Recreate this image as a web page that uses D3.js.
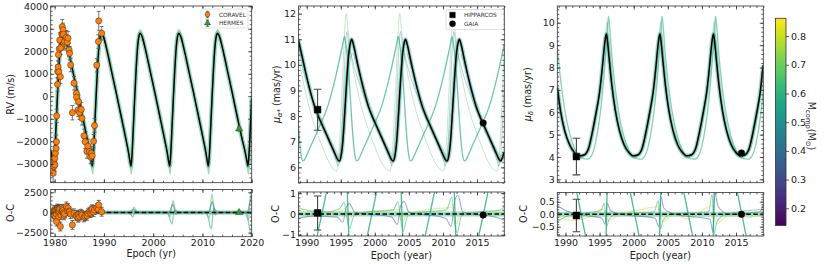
<!DOCTYPE html>
<html lang="en">
<head>
<meta charset="UTF-8">
<title>Orbit fit: RV and proper motions</title>
<script src="https://d3js.org/d3.v7.min.js"></script>
<style>
  body { margin: 0; background: #fff; }
  text { font-family: "DejaVu Sans", sans-serif; }
  .axis text { font-size: 9.5px; fill: #222; font-family: "DejaVu Sans", sans-serif; }
  .axis line { stroke: #333; stroke-width: 0.8; }
  .lbl { font-size: 9.6px; fill: #222; }
  .leg { font-size: 5.8px; fill: #333; }
</style>
</head>
<body>
<svg id="fig" width="830" height="264"></svg>
<script>
// ---------- tick labels ----------
const yearTicksRV = [1980, 1990, 2000, 2010, 2020];
const yearTicksPM = [1990, 1995, 2000, 2005, 2010, 2015];
const rvTicks = [-3000, -2000, -1000, 0, 1000, 2000, 3000, 4000];
const rvOcTicks = [-2500, 0, 2500];
const pmraTicks = [6, 7, 8, 9, 10, 11, 12];
const pmraOcTicks = [-1, 0, 1];
const pmdecTicks = [3, 4, 5, 6, 7, 8, 9, 10];
const pmdecOcTicks = [-0.5, 0, 0.5];
const massTicks = [0.2, 0.3, 0.4, 0.5, 0.6, 0.7, 0.8];

// ---------- RV panel ----------
// best fit [epoch, RV m/s]
const rvBest = [[1979.2,-2400],[1979.5,-2750],[1979.65,-2950],[1979.8,-3100],
  [1980.0,-2600],[1980.25,-1500],[1980.55,-100],[1980.85,1200],[1981.15,2200],[1981.45,2700],[1981.65,2800],
  [1982.05,2650],[1982.65,2150],[1983.65,1150],[1984.65,150],[1985.65,-900],[1986.65,-1950],[1987.15,-2500],[1987.45,-2900],[1987.65,-3100],
  [1987.85,-2600],[1988.1,-1500],[1988.4,-100],[1988.7,1200],[1989.0,2200],[1989.3,2700],[1989.5,2800],
  [1989.9,2650],[1990.5,2150],[1991.5,1150],[1992.5,150],[1993.5,-900],[1994.5,-1950],[1995.0,-2500],[1995.3,-2900],[1995.5,-3100],
  [1995.7,-2600],[1995.95,-1500],[1996.25,-100],[1996.55,1200],[1996.85,2200],[1997.15,2700],[1997.35,2800],
  [1997.75,2650],[1998.35,2150],[1999.35,1150],[2000.35,150],[2001.35,-900],[2002.35,-1950],[2002.85,-2500],[2003.15,-2900],[2003.35,-3100],
  [2003.55,-2600],[2003.8,-1500],[2004.1,-100],[2004.4,1200],[2004.7,2200],[2005.0,2700],[2005.2,2800],
  [2005.6,2650],[2006.2,2150],[2007.2,1150],[2008.2,150],[2009.2,-900],[2010.2,-1950],[2010.7,-2500],[2011.0,-2900],[2011.2,-3100],
  [2011.4,-2600],[2011.65,-1500],[2011.95,-100],[2012.25,1200],[2012.55,2200],[2012.85,2700],[2013.05,2800],
  [2013.45,2650],[2014.05,2150],[2015.05,1150],[2016.05,150],[2017.05,-900],[2018.1,-1950],[2018.7,-2500],[2019.05,-2900],[2019.25,-3100],
  [2019.45,-2600],[2019.7,-1500],[2020.0,-100]];
// one posterior draw with deeper minima (M = 0.62)
const rvSample = [[1979.2,-2300],[1979.5,-2900],[1979.9,-3350],[1980.3,-1200],[1980.8,1500],[1981.2,2600],[1981.7,2950],
  [1982.7,2200],[1984.7,150],[1986.7,-1900],[1987.45,-2900],[1987.75,-3450],[1988.15,-1300],[1988.65,1500],[1989.05,2600],[1989.55,2950],
  [1990.55,2200],[1992.55,150],[1994.55,-1900],[1995.3,-2900],[1995.6,-3450],[1996.0,-1300],[1996.5,1500],[1996.9,2600],[1997.4,2950],
  [1998.4,2200],[2000.4,150],[2002.4,-1900],[2003.15,-2900],[2003.45,-3450],[2003.85,-1300],[2004.35,1500],[2004.75,2600],[2005.25,2950],
  [2006.25,2200],[2008.25,150],[2010.25,-1900],[2011.0,-2900],[2011.3,-3450],[2011.7,-1300],[2012.2,1500],[2012.6,2600],[2013.1,2950],
  [2014.1,2200],[2016.1,150],[2018.1,-1900],[2019.0,-2900],[2019.35,-3450],[2019.7,-1500],[2020.0,300]];
// CORAVEL [epoch, RV, err, O-C]
const coravel = [
  [1979.70,-3420,380,-250],[1979.82,-3130,300,120],[1979.90,-2980,300,-80],[1980.00,-2760,300,320],
  [1980.05,-3050,280,-420],[1980.16,-2530,300,240],[1980.30,-2310,300,-150],[1980.37,-2020,300,-1120],
  [1980.42,-870,300,280],[1980.57,530,300,480],[1980.62,1100,300,380],[1980.70,1300,300,100],
  [1980.76,1840,300,320],[1980.83,1090,300,-520],[1980.92,2100,300,180],[1981.03,2500,320,420],
  [1981.17,870,300,-1730],[1981.25,2150,300,-300],[1981.45,2750,320,150],[1981.55,3090,320,450],
  [1981.62,2800,300,120],[1981.70,2950,300,250],[1981.78,2750,300,-50],[1981.90,2350,300,-350],
  [1982.04,2430,300,-150],[1982.38,2620,300,750],[1982.55,2400,300,200],[1982.72,2580,300,550],
  [1982.93,2060,300,180],[1983.05,1910,300,100],[1983.25,1390,300,-200],[1983.60,-730,320,-1530],
  [1983.93,580,300,-100],[1984.40,130,300,-350],[1984.45,-40,300,-450],[1984.74,-610,300,-650],
  [1984.86,-240,300,-250],[1985.06,-730,300,-500],[1985.40,-580,300,-150],[1985.54,-980,300,-320],
  [1985.95,-1760,300,-600],[1986.20,-2020,300,-450],[1986.55,-2450,300,-400],[1986.75,-2210,300,-100],
  [1987.08,-2460,300,100],[1987.30,-2700,300,-60],[1987.42,-2530,300,250],[1987.60,-2650,300,400],
  [1987.90,-2000,300,50],[1988.10,-1300,300,320],[1988.55,1380,300,550],[1988.88,2430,300,420],
  [1988.95,3350,420,950],[1989.55,2800,300,100]];
const coravelOcErr = 550;
const hermes = [[2017.45, -1450, 90, 0]];
// O-C of posterior draws
const rvOcA = [[1979.2,0],[1994.8,0],[1995.6,-250],[1996.1,700],[1996.6,150],[1997.3,0],[2002.7,0],[2003.5,-500],[2004.0,1500],
  [2004.5,400],[2005.3,0],[2010.6,0],[2011.4,-700],[2011.9,2300],[2012.4,600],[2013.2,0],[2018.6,0],[2019.3,-900],[2019.85,2600],[2020,2400]];
const rvOcB = [[1979.2,0],[1995.0,0],[1995.9,-550],[1996.4,200],[1997.2,0],[2002.9,0],[2003.8,-1400],[2004.3,300],[2005.2,0],
  [2010.8,0],[2011.8,-2000],[2012.3,500],[2013.1,0],[2018.9,0],[2019.9,-2800],[2020,-2600]];
const rvOcC = [[1979.2,0],[1995.2,0],[1996.0,400],[1996.6,0],[2003.2,0],[2004.0,1000],[2004.6,-200],[2005.2,0],
  [2011.2,0],[2012.0,1300],[2012.6,-300],[2013.2,0],[2019.1,0],[2019.9,1800],[2020,1700]];

// ---------- mu_alpha* panel ----------
const pmraBest = [[1988.8,10.95],[1989.4,10.25],[1989.9,9.65],[1990.7,8.8],[1991.2,8.35],[1991.7,8.0],[1992.2,7.7],[1992.7,7.4],
  [1993.2,7.1],[1993.7,6.8],[1994.2,6.5],[1994.55,6.3],[1994.8,6.25],[1995.05,6.45],[1995.3,7.0],[1995.6,8.2],[1995.9,9.5],
  [1996.2,10.5],[1996.45,10.9],[1996.6,11.0],[1996.9,10.75],[1997.3,10.25],[1997.8,9.65],[1998.6,8.8],[1999.1,8.35],[1999.6,8.0],
  [2000.1,7.7],[2000.6,7.4],[2001.1,7.1],[2001.6,6.8],[2002.1,6.5],[2002.45,6.3],[2002.7,6.25],[2002.95,6.45],[2003.2,7.0],
  [2003.5,8.2],[2003.8,9.5],[2004.1,10.5],[2004.35,10.9],[2004.5,11.0],[2004.8,10.75],[2005.2,10.25],[2005.7,9.65],[2006.5,8.8],
  [2007.0,8.35],[2007.5,8.0],[2008.0,7.7],[2008.5,7.4],[2009.0,7.1],[2009.5,6.8],[2010.0,6.5],[2010.35,6.3],[2010.6,6.25],
  [2010.85,6.45],[2011.1,7.0],[2011.4,8.2],[2011.7,9.5],[2012.0,10.5],[2012.25,10.9],[2012.4,11.0],[2012.7,10.75],[2013.1,10.25],
  [2013.6,9.65],[2014.4,8.8],[2014.9,8.35],[2015.4,8.0],[2015.9,7.7],[2016.4,7.4],[2016.9,7.1],[2017.4,6.8],[2017.9,6.5],
  [2018.25,6.3],[2018.5,6.25],[2018.75,6.4],[2019.0,6.6]];
// mirrored solution (M = 0.57)
const pmraAlt = [[1988.8,7.6],[1989.0,6.9],[1989.2,6.45],[1989.45,6.25],[1989.7,6.3],[1990.05,6.5],[1990.55,6.8],[1991.05,7.1],
  [1991.55,7.4],[1992.05,7.7],[1992.55,8.0],[1993.05,8.35],[1993.55,8.8],[1994.35,9.65],[1994.85,10.25],[1995.25,10.75],[1995.55,11.1],
  [1995.7,10.9],[1995.95,10.4],[1996.25,9.4],[1996.55,8.1],[1996.85,7.0],[1997.1,6.45],[1997.35,6.25],[1997.6,6.3],[1997.95,6.5],
  [1998.45,6.8],[1998.95,7.1],[1999.45,7.4],[1999.95,7.7],[2000.45,8.0],[2000.95,8.35],[2001.45,8.8],[2002.25,9.65],[2002.75,10.25],
  [2003.15,10.75],[2003.45,11.1],[2003.6,10.9],[2003.85,10.4],[2004.15,9.4],[2004.45,8.1],[2004.75,7.0],[2005.0,6.45],[2005.25,6.25],
  [2005.5,6.3],[2005.85,6.5],[2006.35,6.8],[2006.85,7.1],[2007.35,7.4],[2007.85,7.7],[2008.35,8.0],[2008.85,8.35],[2009.35,8.8],
  [2010.15,9.65],[2010.65,10.25],[2011.05,10.75],[2011.35,11.1],[2011.5,10.9],[2011.75,10.4],[2012.05,9.4],[2012.35,8.1],[2012.65,7.0],
  [2012.9,6.45],[2013.15,6.25],[2013.4,6.3],[2013.75,6.5],[2014.25,6.8],[2014.75,7.1],[2015.25,7.4],[2015.75,7.7],[2016.25,8.0],
  [2016.75,8.35],[2017.25,8.8],[2018.05,9.65],[2018.55,10.25],[2018.95,10.75],[2019.0,10.8]];
const pmraHigh = [[1988.8,10.3],[1989.6,9.2],[1990.6,8.1],[1991.6,7.3],[1992.6,6.6],[1993.6,6.05],[1994.4,5.85],[1994.65,6.3],
  [1994.95,7.6],[1995.25,9.4],[1995.55,11.2],[1995.8,12.0],[1996.05,11.4],[1996.5,10.4],[1997.3,9.2],[1998.3,8.1],[1999.3,7.3],
  [2000.3,6.6],[2001.3,6.05],[2002.25,5.85],[2002.5,6.3],[2002.8,7.6],[2003.1,9.4],[2003.4,11.2],[2003.65,12.0],[2003.9,11.4],
  [2004.35,10.4],[2005.15,9.2],[2006.15,8.1],[2007.15,7.3],[2008.15,6.6],[2009.15,6.05],[2010.1,5.85],[2010.35,6.3],[2010.65,7.6],
  [2010.95,9.4],[2011.25,11.2],[2011.5,12.0],[2011.75,11.4],[2012.2,10.4],[2013.0,9.2],[2014.0,8.1],[2015.0,7.3],[2016.0,6.6],
  [2017.0,6.05],[2017.95,5.85],[2018.2,6.3],[2018.5,7.6],[2018.8,9.4],[2019.0,10.6]];
const pmraBlue = [[1988.8,10.7],[1989.6,9.9],[1990.7,8.8],[1992.2,7.7],[1993.7,6.8],[1994.4,6.2],[1994.6,6.05],[1994.9,6.4],
  [1995.3,8.3],[1995.65,10.5],[1995.9,11.3],[1996.2,10.8],[1996.9,10.0],[1998.5,8.7],[2000.0,7.7],[2001.5,6.8],[2002.3,6.2],
  [2002.45,6.05],[2002.75,6.4],[2003.15,8.3],[2003.5,10.5],[2003.75,11.3],[2004.05,10.8],[2004.75,10.0],[2006.35,8.7],
  [2007.85,7.7],[2009.35,6.8],[2010.15,6.2],[2010.3,6.05],[2010.6,6.4],[2011.0,8.3],[2011.35,10.5],[2011.6,11.3],[2011.9,10.8],
  [2012.6,10.0],[2014.2,8.7],[2015.7,7.7],[2017.2,6.8],[2018.0,6.2],[2018.15,6.05],[2018.45,6.4],[2018.85,8.3],[2019.0,9.1]];
const pmraLow = [[1988.8,10.5],[1990.3,9.0],[1992.3,7.8],[1994.0,6.8],[1995.0,6.45],[1995.5,7.4],[1996.1,9.6],[1996.75,10.45],
  [1997.4,10.0],[1998.7,8.9],[2000.2,7.8],[2001.9,6.8],[2002.9,6.45],[2003.4,7.4],[2004.0,9.6],[2004.6,10.45],[2005.25,10.0],
  [2006.55,8.9],[2008.05,7.8],[2009.75,6.8],[2010.75,6.45],[2011.25,7.4],[2011.85,9.6],[2012.45,10.45],[2013.1,10.0],[2014.4,8.9],
  [2015.9,7.8],[2017.6,6.8],[2018.6,6.45],[2019.0,6.9]];
const pmraHip = [[1991.6, 8.25, 0.8]];
const pmraGaia = [[2015.9, 7.73, 0.05]];
const pmraHipOc = [[1991.6, 0.05, 0.82]];
const pmraGaiaOc = [[2015.9, -0.05, 0.05]];
// steep O-C tracks of the mirrored solution [t0, v0, t1, v1]
const pmraOcJumps = [[1991.45,-1.2,1993.0,1.2],[1998.8,-1.2,2000.35,1.2],[2007.3,-1.2,2008.85,1.2],[2015.15,-1.2,2016.7,1.2],
  [1995.95,1.2,1996.2,-1.2],[2003.85,1.2,2004.1,-1.2],[2011.65,1.2,2011.9,-1.2]];
const pmraOcA = [[1988.8,0.3],[1990.5,0.15],[1993,0.1],[1994.8,0.25],[1995.5,0.55],[1995.9,-0.2],[1996.3,-0.7],[1996.9,-0.1],
  [1998,0.05],[2002.7,0.2],[2003.4,0.6],[2003.8,-0.3],[2004.2,-0.8],[2004.8,-0.1],[2006,0.05],[2010.5,0.2],[2011.3,0.8],
  [2011.7,-0.4],[2012.1,-0.9],[2012.7,-0.1],[2014,0.05],[2018.5,0.2],[2019,0.35]];
const pmraOcB = [[1988.8,-0.2],[1991,-0.1],[1994.5,-0.15],[1995.3,-0.4],[1995.8,0.3],[1996.3,0.5],[1997,0.1],[2002.5,-0.15],
  [2003.3,-0.5],[2003.8,0.4],[2004.3,0.6],[2005,0.1],[2010.4,-0.2],[2011.2,-0.6],[2011.7,0.6],[2012.2,0.9],[2012.9,0.1],
  [2018.3,-0.2],[2019,-0.3]];
const pmraOcC = [[1988.8,0.1],[1994.9,0.1],[1995.6,0.25],[1996.2,-0.3],[1996.8,0],[2003.5,0.2],[2004.1,-0.35],[2004.7,0],
  [2011.4,0.3],[2012.0,-0.45],[2012.6,0],[2019,0.1]];

// ---------- mu_delta panel ----------
const pmdecBest = [[1988.8,7.1],[1989.3,6.0],[1989.9,5.15],[1990.6,4.55],[1991.3,4.2],[1992.05,4.05],[1992.8,4.1],[1993.4,4.4],
  [1994.0,5.2],[1994.5,6.0],[1995.0,6.9],[1995.4,8.0],[1995.7,8.95],[1995.9,9.4],[1996.0,9.5],[1996.15,9.2],[1996.4,8.4],
  [1996.8,7.2],[1997.3,6.1],[1997.9,5.2],[1998.6,4.55],[1999.3,4.2],[1999.95,4.05],[2000.65,4.1],[2001.25,4.4],[2001.85,5.2],
  [2002.35,6.0],[2002.85,6.9],[2003.25,8.0],[2003.55,8.95],[2003.75,9.4],[2003.85,9.5],[2004.0,9.2],[2004.25,8.4],[2004.65,7.2],
  [2005.15,6.1],[2005.75,5.2],[2006.45,4.55],[2007.15,4.2],[2007.8,4.05],[2008.5,4.1],[2009.1,4.4],[2009.7,5.2],[2010.2,6.0],
  [2010.7,6.9],[2011.1,8.0],[2011.4,8.95],[2011.6,9.4],[2011.7,9.5],[2011.85,9.2],[2012.1,8.4],[2012.5,7.2],[2013.0,6.1],
  [2013.6,5.2],[2014.3,4.55],[2015.0,4.2],[2015.65,4.05],[2016.35,4.1],[2016.95,4.4],[2017.55,5.2],[2018.05,6.0],[2018.55,6.9],
  [2018.95,8.0],[2019.0,8.1]];
const pmdecAlt = [[1988.8,8.9],[1989.35,7.3],[1989.95,6.0],[1990.65,5.0],[1991.45,4.3],[1992.35,3.95],[1993.25,3.9],[1993.8,4.05],
  [1994.3,4.5],[1994.8,5.3],[1995.3,6.5],[1995.7,7.8],[1996.0,9.0],[1996.2,9.9],[1996.3,10.3],[1996.45,9.9],[1996.75,8.7],
  [1997.2,7.3],[1997.8,6.0],[1998.5,5.0],[1999.3,4.3],[2000.2,3.95],[2001.1,3.9],[2001.65,4.05],[2002.15,4.5],[2002.65,5.3],
  [2003.15,6.5],[2003.55,7.8],[2003.85,9.0],[2004.05,9.9],[2004.15,10.3],[2004.3,9.9],[2004.6,8.7],[2005.05,7.3],[2005.65,6.0],
  [2006.35,5.0],[2007.15,4.3],[2008.05,3.95],[2008.95,3.9],[2009.5,4.05],[2010.0,4.5],[2010.5,5.3],[2011.0,6.5],[2011.4,7.8],
  [2011.7,9.0],[2011.9,9.9],[2012.0,10.3],[2012.15,9.9],[2012.45,8.7],[2012.9,7.3],[2013.5,6.0],[2014.2,5.0],[2015.0,4.3],
  [2015.9,3.95],[2016.8,3.9],[2017.35,4.05],[2017.85,4.5],[2018.35,5.3],[2018.85,6.5],[2019.0,6.9]];
const pmdecHigh = [[1988.8,7.4],[1989.6,5.6],[1990.8,4.4],[1992.1,3.95],[1993.4,4.3],[1994.5,5.8],[1995.4,7.9],[1995.9,9.5],
  [1996.1,10.05],[1996.3,9.4],[1996.9,7.2],[1997.9,5.1],[1999.2,4.15],[2000.0,3.95],[2001.3,4.3],[2002.4,5.8],[2003.3,7.9],
  [2003.75,9.5],[2003.95,10.05],[2004.15,9.4],[2004.75,7.2],[2005.75,5.1],[2007.05,4.15],[2007.85,3.95],[2009.15,4.3],
  [2010.25,5.8],[2011.15,7.9],[2011.6,9.5],[2011.8,10.05],[2012.0,9.4],[2012.6,7.2],[2013.6,5.1],[2014.9,4.15],[2015.7,3.95],
  [2017.0,4.3],[2018.1,5.8],[2019.0,7.8]];
const pmdecHip = [[1991.6, 4.02, 0.82]];
const pmdecGaia = [[2015.8, 4.18, 0.05]];
const pmdecHipOc = [[1991.6, -0.05, 0.65]];
const pmdecGaiaOc = [[2015.8, 0.0, 0.05]];
const pmdecOcJumps = [[1991.6,0.95,1993.0,-0.95],[1999.45,0.95,2000.85,-0.95],[2007.3,0.95,2008.7,-0.95],[2015.15,0.95,2016.55,-0.95],
  [1995.95,-0.95,1996.1,0.95],[2003.8,-0.95,2003.95,0.95],[2011.65,-0.95,2011.8,0.95]];
const pmdecOcA = [[1988.8,-0.3],[1990,-0.1],[1993,0.05],[1995.2,0.15],[1995.7,0.45],[1996.0,-0.5],[1996.4,-0.2],[1997.5,0],
  [2003,0.1],[2003.6,0.55],[2003.9,-0.6],[2004.3,-0.25],[2005.5,0],[2011,0.1],[2011.5,0.8],[2011.8,-0.8],[2012.2,-0.3],
  [2013.5,0],[2019,0.2]];
const pmdecOcB = [[1988.8,0.35],[1990,0.15],[1993,-0.05],[1995.3,-0.15],[1995.8,-0.4],[1996.1,0.45],[1996.6,0.15],[1998,0],
  [2003.1,-0.15],[2003.7,-0.5],[2004.0,0.7],[2004.4,0.25],[2006,0],[2011.2,-0.2],[2011.6,-0.7],[2011.9,0.85],[2012.4,0.3],
  [2014,0],[2018.5,0.1],[2019,0.4]];
const pmdecOcC = [[1988.8,-0.1],[1991,-0.25],[1993.5,-0.1],[1995.5,0.2],[1996.3,-0.25],[1998,0],[2000.5,0.15],[2003.5,0.3],
  [2004.2,-0.3],[2006,0.05],[2008,-0.2],[2011.5,0.35],[2012.1,-0.4],[2014,0],[2016.5,-0.15],[2019,0.05]];

// ---------- drawing ----------
const svg = d3.select("#fig");
const defs = svg.append("defs");
const mcol = d3.scaleSequential(d3.interpolateViridis).domain([0.14, 0.862]);
const blank = () => "";
let clipN = 0;

function panel(box, xDom, yDom) {
  const x = d3.scaleLinear().domain(xDom).range([box.l, box.r]);
  const y = d3.scaleLinear().domain(yDom).range([box.b, box.t]);
  const id = "clip" + clipN++;
  defs.append("clipPath").attr("id", id).append("rect")
    .attr("x", box.l).attr("y", box.t).attr("width", box.r - box.l).attr("height", box.b - box.t);
  const plot = svg.append("g").attr("clip-path", `url(#${id})`);
  return { x, y, box, xDom, yDom, plot };
}

function decorate(ax, o) {
  const { x, y, box } = ax;
  const inside = (v, d) => v.filter(t => t >= d[0] - 1e-9 && t <= d[1] + 1e-9);
  const g = svg.append("g").attr("class", "axis");
  const put = (axis, tx, ty, vals, size, fmt, pad) => {
    const a = g.append("g").attr("transform", `translate(${tx},${ty})`)
      .call(axis.tickValues(vals).tickSizeInner(size).tickSizeOuter(0).tickPadding(pad).tickFormat(fmt));
    a.select(".domain").remove();
  };
  const xt = inside(o.xt, ax.xDom), xm = inside(o.xm, ax.xDom);
  const yt = inside(o.yt, ax.yDom), ym = inside(o.ym, ax.yDom);
  put(d3.axisBottom(x), 0, box.b, xt, -3.5, o.xlab ? d3.format("d") : blank, 3);
  put(d3.axisBottom(x), 0, box.b, xm, -2, blank, 3);
  put(d3.axisTop(x), 0, box.t, xt, -3.5, blank, 3);
  put(d3.axisTop(x), 0, box.t, xm, -2, blank, 3);
  put(d3.axisLeft(y), box.l, 0, yt, -3.5, o.yfmt, 2.5);
  put(d3.axisLeft(y), box.l, 0, ym, -2, blank, 2.5);
  put(d3.axisRight(y), box.r, 0, yt, -3.5, blank, 3);
  put(d3.axisRight(y), box.r, 0, ym, -2, blank, 3);
  g.append("rect").attr("x", box.l).attr("y", box.t)
    .attr("width", box.r - box.l).attr("height", box.b - box.t)
    .attr("fill", "none").attr("stroke", "#333").attr("stroke-width", 0.8);
}

function draw(ax, pts, color, w, op, dash) {
  const line = d3.line().x(d => ax.x(d[0])).y(d => ax.y(d[1])).curve(d3.curveMonotoneX);
  ax.plot.append("path").datum(pts).attr("d", line)
    .attr("fill", "none").attr("stroke", color).attr("stroke-width", w)
    .attr("stroke-opacity", op).attr("stroke-dasharray", dash || null)
    .attr("stroke-linejoin", "round");
}

function jumps(ax, segs, color, w, op) {
  segs.forEach(s => draw(ax, [[s[0], s[1]], [s[2], s[3]]], color, w, op));
}

function errbars(ax, pts, cap, color, w) {
  const g = ax.plot.append("g").attr("stroke", color).attr("stroke-width", w);
  pts.forEach(([t, v, e]) => {
    const X = ax.x(t), a = ax.y(v - e), b = ax.y(v + e);
    g.append("line").attr("x1", X).attr("x2", X).attr("y1", a).attr("y2", b);
    g.append("line").attr("x1", X - cap).attr("x2", X + cap).attr("y1", a).attr("y2", a);
    g.append("line").attr("x1", X - cap).attr("x2", X + cap).attr("y1", b).attr("y2", b);
  });
}

function marks(ax, pts, type, size, fill, stroke, sw) {
  ax.plot.append("g").selectAll("path").data(pts).enter().append("path")
    .attr("transform", d => `translate(${ax.x(d[0])},${ax.y(d[1])})`)
    .attr("d", d3.symbol().type(type).size(size))
    .attr("fill", fill).attr("stroke", stroke).attr("stroke-width", sw);
}

function zero(ax) {
  draw(ax, [[ax.xDom[0], 0], [ax.xDom[1], 0]], "#000", 1.4, 1, "4.5,2.5");
}

function vlabel(x, y, parts, rot) {
  const t = svg.append("text").attr("class", "lbl").attr("text-anchor", "middle")
    .attr("transform", `translate(${x},${y}) rotate(${rot})`);
  parts.forEach(p => {
    const s = t.append("tspan").text(p.s);
    if (p.sub) s.attr("font-size", "6.8px").attr("dy", 2.3);
    if (p.up) s.attr("dy", -2.3);
    if (p.it) s.attr("font-style", "italic");
  });
}

function hlabel(x, y, s) {
  svg.append("text").attr("class", "lbl").attr("text-anchor", "middle").attr("x", x).attr("y", y).text(s);
}

const fmtInt = d3.format("d");
const range = (a, b, s) => d3.range(a, b + s / 2, s).map(v => +v.toFixed(3));

// ----- panel 1: RV -----
const rvAx = panel({ l: 50.7, r: 251.7, t: 6, b: 182.7 }, [1979.2, 2020], [-3840, 4010]);
draw(rvAx, rvBest, mcol(0.6), 4.5, 0.45);
draw(rvAx, rvSample, mcol(0.62), 1.6, 0.5);
draw(rvAx, rvBest, "#000", 1.5, 1);
errbars(rvAx, coravel.map(d => [d[0], d[1], d[2]]), 2, "#555", 0.8);
marks(rvAx, coravel, d3.symbolCircle, 30, "#ff7f0e", "#3a2a1a", 0.5);
errbars(rvAx, hermes, 2, "#555", 0.8);
marks(rvAx, hermes, d3.symbolTriangle, 22, "#2ca02c", "#333", 0.5);
decorate(rvAx, { xt: yearTicksRV, xm: range(1980, 2020, 2), yt: rvTicks, ym: range(-3800, 4000, 200), yfmt: fmtInt });

const rvOc = panel({ l: 50.7, r: 251.7, t: 189.5, b: 236.7 }, [1979.2, 2020], [-2995, 2847]);
draw(rvOc, [[1979.2, 0], [2020, 0]], mcol(0.6), 4, 0.55);
draw(rvOc, rvOcA, mcol(0.66), 1.3, 0.55);
draw(rvOc, rvOcB, mcol(0.58), 1.3, 0.55);
draw(rvOc, rvOcC, mcol(0.33), 1.3, 0.5);
zero(rvOc);
errbars(rvOc, coravel.map(d => [d[0], d[3], coravelOcErr]), 2, "#444", 0.8);
marks(rvOc, coravel.map(d => [d[0], d[3]]), d3.symbolCircle, 30, "#ff7f0e", "#3a2a1a", 0.5);
marks(rvOc, hermes.map(d => [d[0], d[3]]), d3.symbolTriangle, 22, "#2ca02c", "#333", 0.5);
decorate(rvOc, { xt: yearTicksRV, xm: range(1980, 2020, 2), xlab: true, yt: rvOcTicks, ym: range(-2500, 2500, 500), yfmt: fmtInt });

// ----- panel 2: mu_alpha* -----
const raAx = panel({ l: 298.5, r: 504.3, t: 6, b: 182.7 }, [1988.8, 2019.0], [5.4, 12.3]);
draw(raAx, pmraLow, mcol(0.62), 1, 0.3);
draw(raAx, pmraBlue, mcol(0.33), 1, 0.3);
draw(raAx, pmraHigh, mcol(0.66), 1, 0.35);
draw(raAx, pmraBest, mcol(0.6), 4.5, 0.35);
draw(raAx, pmraBest, mcol(0.4), 2.8, 0.3);
draw(raAx, pmraAlt, mcol(0.57), 1.3, 0.65);
draw(raAx, pmraBest, "#000", 1.5, 1);
errbars(raAx, pmraHip, 3.8, "#444", 1.1);
marks(raAx, pmraHip, d3.symbolSquare, 46, "#000", "#000", 0.5);
marks(raAx, pmraGaia, d3.symbolCircle, 34, "#000", "#000", 0.5);
decorate(raAx, { xt: yearTicksPM, xm: range(1988, 2020, 1), yt: pmraTicks, ym: range(5.4, 12.4, 0.2), yfmt: fmtInt });

const raOc = panel({ l: 298.5, r: 504.3, t: 192, b: 236 }, [1988.8, 2019.0], [-1.06, 1.06]);
draw(raOc, [[1988.8, 0], [2019, 0]], mcol(0.6), 5, 0.45);
draw(raOc, pmraOcC, mcol(0.8), 1.1, 0.5);
draw(raOc, pmraOcB, mcol(0.35), 1.1, 0.5);
draw(raOc, pmraOcA, mcol(0.62), 1.1, 0.55);
jumps(raOc, pmraOcJumps, mcol(0.57), 1.3, 0.8);
zero(raOc);
errbars(raOc, pmraHipOc, 3.8, "#444", 1.1);
marks(raOc, pmraHipOc, d3.symbolSquare, 46, "#000", "#000", 0.5);
marks(raOc, pmraGaiaOc, d3.symbolCircle, 34, "#000", "#000", 0.5);
decorate(raOc, { xt: yearTicksPM, xm: range(1988, 2020, 1), xlab: true, yt: pmraOcTicks, ym: range(-1, 1, 0.2), yfmt: fmtInt });

// ----- panel 3: mu_delta -----
const deAx = panel({ l: 557.3, r: 763.3, t: 6, b: 182.7 }, [1988.8, 2019.0], [2.85, 10.75]);
draw(deAx, pmdecHigh, mcol(0.66), 1.2, 0.4);
draw(deAx, pmdecBest, mcol(0.6), 4.5, 0.35);
draw(deAx, pmdecBest, mcol(0.45), 2.8, 0.3);
draw(deAx, pmdecAlt, mcol(0.57), 1.3, 0.55);
draw(deAx, pmdecBest, "#000", 1.5, 1);
errbars(deAx, pmdecHip, 3.8, "#444", 1.1);
marks(deAx, pmdecHip, d3.symbolSquare, 46, "#000", "#000", 0.5);
marks(deAx, pmdecGaia, d3.symbolCircle, 34, "#000", "#000", 0.5);
decorate(deAx, { xt: yearTicksPM, xm: range(1988, 2020, 1), yt: pmdecTicks, ym: range(2.8, 10.8, 0.2), yfmt: fmtInt });

const deOc = panel({ l: 557.3, r: 763.3, t: 192.5, b: 236 }, [1988.8, 2019.0], [-0.87, 0.87]);
draw(deOc, [[1988.8, 0], [2019, 0]], mcol(0.6), 5, 0.45);
draw(deOc, pmdecOcC, mcol(0.8), 1.1, 0.5);
draw(deOc, pmdecOcB, mcol(0.35), 1.1, 0.5);
draw(deOc, pmdecOcA, mcol(0.62), 1.1, 0.55);
jumps(deOc, pmdecOcJumps, mcol(0.57), 1.3, 0.8);
zero(deOc);
errbars(deOc, pmdecHipOc, 3.8, "#444", 1.1);
marks(deOc, pmdecHipOc, d3.symbolSquare, 46, "#000", "#000", 0.5);
marks(deOc, pmdecGaiaOc, d3.symbolCircle, 34, "#000", "#000", 0.5);
decorate(deOc, { xt: yearTicksPM, xm: range(1988, 2020, 1), xlab: true, yt: pmdecOcTicks, ym: range(-0.8, 0.8, 0.1), yfmt: d3.format(".1f") });

// ----- axis labels -----
vlabel(13.8, 94.3, [{ s: "RV (m/s)" }], -90);
vlabel(13.5, 213, [{ s: "O-C" }], -90);
vlabel(280, 94.3, [{ s: "μ", it: true }, { s: "α*", sub: true, it: true }, { s: " (mas/yr)", up: true }], -90);
vlabel(278.5, 214, [{ s: "O-C" }], -90);
vlabel(531, 94.3, [{ s: "μ", it: true }, { s: "δ", sub: true, it: true }, { s: " (mas/yr)", up: true }], -90);
vlabel(526.8, 214, [{ s: "O-C" }], -90);
hlabel(151.2, 256.5, "Epoch (yr)");
hlabel(401.4, 258.5, "Epoch (year)");
hlabel(660.3, 258.5, "Epoch (year)");

// ----- legends -----
function legend(x0, y0, w, h, items) {
  const g = svg.append("g");
  g.append("rect").attr("x", x0).attr("y", y0).attr("width", w).attr("height", h).attr("rx", 1.5)
    .attr("fill", "#fff").attr("fill-opacity", 0.85).attr("stroke", "#ccc").attr("stroke-width", 0.6);
  items.forEach((it, i) => {
    const cy = y0 + 5.5 + i * 8.7, cx = x0 + 6.5;
    if (it.bar) {
      g.append("line").attr("x1", cx).attr("x2", cx).attr("y1", cy - 3.2).attr("y2", cy + 3.2).attr("stroke", "#555").attr("stroke-width", 0.8);
      [cy - 3.2, cy + 3.2].forEach(yy => g.append("line").attr("x1", cx - 1.6).attr("x2", cx + 1.6)
        .attr("y1", yy).attr("y2", yy).attr("stroke", "#555").attr("stroke-width", 0.8));
    }
    g.append("path").attr("transform", `translate(${cx},${cy})`)
      .attr("d", d3.symbol().type(it.type).size(it.size))
      .attr("fill", it.fill).attr("stroke", it.stroke).attr("stroke-width", 0.5);
    g.append("text").attr("class", "leg").attr("x", x0 + 18).attr("y", cy).attr("dy", "0.35em").text(it.name);
  });
}
legend(201, 9, 47, 19, [
  { name: "CORAVEL", type: d3.symbolCircle, size: 18, fill: "#ff7f0e", stroke: "#3a2a1a", bar: true },
  { name: "HERMES", type: d3.symbolTriangle, size: 16, fill: "#2ca02c", stroke: "#333", bar: true }
]);
legend(446, 9.5, 57.5, 20, [
  { name: "HIPPARCOS", type: d3.symbolSquare, size: 30, fill: "#000", stroke: "#000" },
  { name: "GAIA", type: d3.symbolCircle, size: 28, fill: "#000", stroke: "#000" }
]);

// ----- colorbar -----
const cb = { l: 775.5, r: 786, t: 18.3, b: 225.5 };
const grad = defs.append("linearGradient").attr("id", "viridis")
  .attr("x1", 0).attr("y1", 1).attr("x2", 0).attr("y2", 0);
d3.range(0, 1.0001, 0.05).forEach(t => grad.append("stop").attr("offset", t).attr("stop-color", d3.interpolateViridis(t)));
svg.append("rect").attr("x", cb.l).attr("y", cb.t).attr("width", cb.r - cb.l).attr("height", cb.b - cb.t)
  .attr("fill", "url(#viridis)").attr("stroke", "#333").attr("stroke-width", 0.8);
const cbScale = d3.scaleLinear().domain([0.14, 0.862]).range([cb.b, cb.t]);
const cbAxis = svg.append("g").attr("class", "axis").attr("transform", `translate(${cb.r},0)`)
  .call(d3.axisRight(cbScale).tickValues(massTicks).tickSize(3).tickPadding(2).tickFormat(d3.format(".1f")));
cbAxis.select(".domain").remove();
vlabel(808, 126, [{ s: "M" }, { s: "comp", sub: true }, { s: "(M", up: true }, { s: "⊙", sub: true }, { s: ")", up: true }], 90);
</script>
</body>
</html>
